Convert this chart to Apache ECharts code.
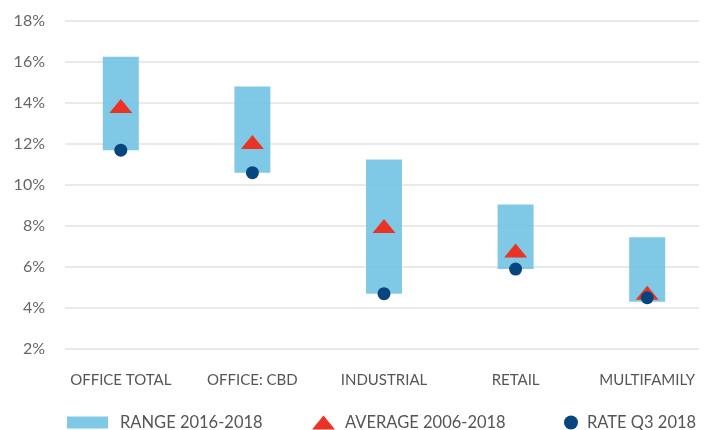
<!DOCTYPE html>
<html><head><meta charset="utf-8">
<script src="https://cdn.jsdelivr.net/npm/echarts@6/dist/echarts.min.js"></script>
<style>html,body{margin:0;padding:0;background:#fff}#c{width:713px;height:430px}</style>
</head><body><div id="c"></div>
<script>
var categories = ['OFFICE TOTAL', 'OFFICE: CBD', 'INDUSTRIAL', 'RETAIL', 'MULTIFAMILY'];
var rangeLow = [11.7, 10.6, 4.7, 5.9, 4.3];
var rangeHigh = [16.25, 14.8, 11.25, 9.05, 7.45];
var average = [13.85, 12.1, 8.0, 6.8, 4.75];
var rateQ3 = [11.7, 10.6, 4.7, 5.9, 4.5];
var yTicks = { min: 2, max: 18, interval: 2 };

var FONT = 'Lato, "Open Sans", sans-serif';
var BAR = 'rgba(114,195,227,0.9)';
var RED = '#EA3325';
var NAVY = '#07457E';

var chart = echarts.init(document.getElementById('c'), null, { renderer: 'canvas' });
var rangeSpan = rangeHigh.map(function (h, i) { return +(h - rangeLow[i]).toFixed(2); });

chart.setOption({
  animation: false,
  grid: [
    { left: 65, right: 14, top: 21, bottom: 81 },
    { left: 55, right: -9, top: 21, bottom: 81 }
  ],
  xAxis: [
    { gridIndex: 0, type: 'category', data: categories, show: false },
    { gridIndex: 1, type: 'category', data: categories,
      axisLine: { show: false }, axisTick: { show: false },
      axisLabel: { interval: 0, color: '#555', fontFamily: FONT, fontSize: 15, margin: 24 } }
  ],
  yAxis: [
    { gridIndex: 0, type: 'value', min: yTicks.min, max: yTicks.max, interval: yTicks.interval,
      axisLine: { show: false }, axisTick: { show: false },
      axisLabel: { formatter: '{value}%', color: '#666', fontFamily: FONT, fontSize: 16, margin: 20 },
      splitLine: { lineStyle: { color: '#e2e2e2', width: 1.5 } } },
    { gridIndex: 1, type: 'value', min: yTicks.min, max: yTicks.max, interval: yTicks.interval, show: false,
      splitLine: { show: false } }
  ],
  legend: [
    { data: [{ name: 'RANGE 2016-2018', icon: 'rect' }], left: 67, top: 414, padding: 0, itemWidth: 41, itemHeight: 12, itemGap: 0,
      textStyle: { color: '#555', fontFamily: FONT, fontSize: 16.5, padding: [0, 0, 0, 7] } },
    { data: [{ name: 'AVERAGE 2006-2018', icon: 'triangle' }], left: 312, top: 414, padding: 0, itemWidth: 23, itemHeight: 14,
      textStyle: { color: '#555', fontFamily: FONT, fontSize: 16.5, padding: [0, 0, 0, 5] } },
    { data: [{ name: 'RATE Q3 2018', icon: 'circle' }], left: 564, top: 414, padding: 0, itemWidth: 14, itemHeight: 14,
      textStyle: { color: '#555', fontFamily: FONT, fontSize: 16.5, padding: [0, 0, 0, 4] } }
  ],
  series: [
    { name: 'base', type: 'bar', xAxisIndex: 1, yAxisIndex: 1, stack: 'r', data: rangeLow,
      itemStyle: { color: 'rgba(0,0,0,0)' }, barWidth: 36, silent: true },
    { name: 'RANGE 2016-2018', type: 'bar', xAxisIndex: 1, yAxisIndex: 1, stack: 'r', data: rangeSpan,
      itemStyle: { color: BAR }, barWidth: 36 },
    { name: 'AVERAGE 2006-2018', type: 'scatter', xAxisIndex: 1, yAxisIndex: 1, data: average,
      symbol: 'triangle', symbolSize: [23, 14], itemStyle: { color: RED, opacity: 1 }, z: 3 },
    { name: 'RATE Q3 2018', type: 'scatter', xAxisIndex: 1, yAxisIndex: 1, data: rateQ3,
      symbol: 'circle', symbolSize: 13, itemStyle: { color: NAVY, opacity: 1 }, z: 4 }
  ]
});
</script></body></html>
